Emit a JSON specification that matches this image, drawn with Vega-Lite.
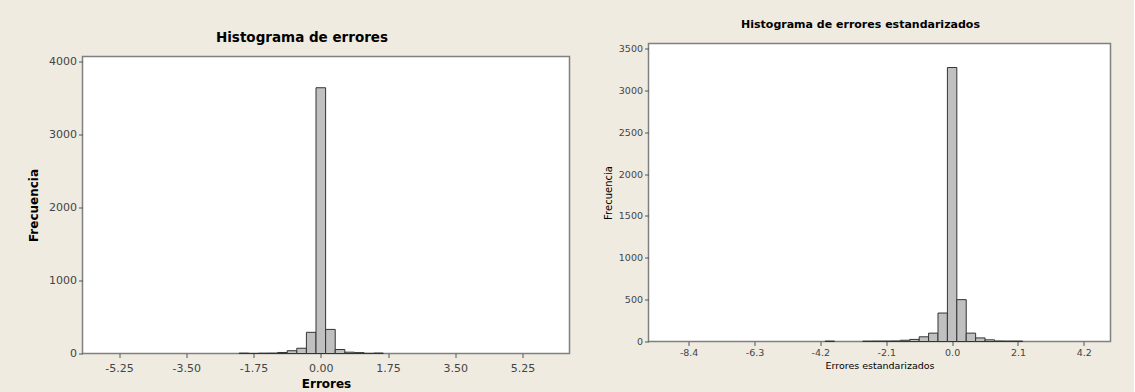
{
  "$schema": "https://vega.github.io/schema/vega-lite/v6.json",
  "background": "#EFEBE1",
  "padding": {"left": 26.5, "top": 17.5, "right": 22, "bottom": 1},
  "spacing": 32,
  "config": {
    "font": "DejaVu Sans",
    "view": {"fill": "white", "stroke": "#808080", "strokeWidth": 1.5},
    "axis": {
      "grid": false,
      "domain": false,
      "tickColor": "#555555",
      "tickSize": 4,
      "labelColor": "#444444",
      "labelPadding": 2,
      "labelFlush": false,
      "labelOverlap": false,
      "titleColor": "black",
      "titleFont": "DejaVu Sans"
    }
  },
  "datasets": {
    "errores": [
      {"bin_start": -2.125, "bin_end": -1.875, "count": 5},
      {"bin_start": -1.875, "bin_end": -1.625, "count": 1},
      {"bin_start": -1.625, "bin_end": -1.375, "count": 4},
      {"bin_start": -1.375, "bin_end": -1.125, "count": 5},
      {"bin_start": -1.125, "bin_end": -0.875, "count": 14},
      {"bin_start": -0.875, "bin_end": -0.625, "count": 38},
      {"bin_start": -0.625, "bin_end": -0.375, "count": 72},
      {"bin_start": -0.375, "bin_end": -0.125, "count": 290},
      {"bin_start": -0.125, "bin_end": 0.125, "count": 3640},
      {"bin_start": 0.125, "bin_end": 0.375, "count": 330},
      {"bin_start": 0.375, "bin_end": 0.625, "count": 55},
      {"bin_start": 0.625, "bin_end": 0.875, "count": 18},
      {"bin_start": 0.875, "bin_end": 1.125, "count": 12},
      {"bin_start": 1.125, "bin_end": 1.375, "count": 2},
      {"bin_start": 1.375, "bin_end": 1.625, "count": 6}
    ],
    "estandarizados": [
      {"bin_start": -4.05, "bin_end": -3.75, "count": 5},
      {"bin_start": -2.85, "bin_end": -2.55, "count": 4},
      {"bin_start": -2.55, "bin_end": -2.25, "count": 5},
      {"bin_start": -2.25, "bin_end": -1.95, "count": 5},
      {"bin_start": -1.95, "bin_end": -1.65, "count": 6},
      {"bin_start": -1.65, "bin_end": -1.35, "count": 15},
      {"bin_start": -1.35, "bin_end": -1.05, "count": 25},
      {"bin_start": -1.05, "bin_end": -0.75, "count": 56},
      {"bin_start": -0.75, "bin_end": -0.45, "count": 100},
      {"bin_start": -0.45, "bin_end": -0.15, "count": 340},
      {"bin_start": -0.15, "bin_end": 0.15, "count": 3273},
      {"bin_start": 0.15, "bin_end": 0.45, "count": 500},
      {"bin_start": 0.45, "bin_end": 0.75, "count": 100},
      {"bin_start": 0.75, "bin_end": 1.05, "count": 43},
      {"bin_start": 1.05, "bin_end": 1.35, "count": 20},
      {"bin_start": 1.35, "bin_end": 1.65, "count": 6},
      {"bin_start": 1.65, "bin_end": 1.95, "count": 5},
      {"bin_start": 1.95, "bin_end": 2.25, "count": 5}
    ]
  },
  "hconcat": [
    {
      "title": {
        "text": "Histograma de errores",
        "fontSize": 13.5,
        "fontWeight": "bold",
        "font": "DejaVu Sans",
        "color": "black",
        "anchor": "middle",
        "dx": 3.5,
        "offset": -1
      },
      "spacing": 0,
      "vconcat": [
        {
          "width": 487,
          "height": 11,
          "view": {"fill": null, "stroke": null},
          "data": {"values": [{}]},
          "mark": {"type": "rule", "opacity": 0},
          "encoding": {}
        },
        {
          "width": 487,
          "height": 297,
          "data": {"name": "errores"},
          "mark": {"type": "bar", "fill": "#C0C0C0", "stroke": "#333333", "strokeWidth": 1},
          "encoding": {
            "x": {
              "field": "bin_start",
              "type": "quantitative",
              "scale": {"domain": [-6.2, 6.47], "nice": false, "zero": false},
              "axis": {
                "title": "Errores",
                "titleFontSize": 12,
                "titleFontWeight": "bold",
                "titlePadding": 5,
                "labelPadding": 5,
                "labelFontSize": 11,
                "values": [-5.25, -3.5, -1.75, 0, 1.75, 3.5, 5.25],
                "labelExpr": "replace(format(datum.value, '.2f'), '\u2212', '-')"
              }
            },
            "x2": {"field": "bin_end"},
            "y": {
              "field": "count",
              "type": "quantitative",
              "scale": {"domain": [0, 4068], "nice": false},
              "axis": {
                "title": "Frecuencia",
                "titleFontSize": 12,
                "titleFontWeight": "bold",
                "titlePadding": 8,
                "labelFontSize": 11,
                "values": [0, 1000, 2000, 3000, 4000],
                "format": "d"
              }
            },
            "y2": {"datum": 0}
          }
        }
      ]
    },
    {
      "width": 462,
      "height": 298,
      "title": {
        "text": "Histograma de errores estandarizados",
        "fontSize": 11,
        "fontWeight": "bold",
        "font": "DejaVu Sans",
        "color": "black",
        "anchor": "middle",
        "dx": -19,
        "offset": 13.5
      },
      "data": {"name": "estandarizados"},
      "mark": {"type": "bar", "fill": "#C0C0C0", "stroke": "#333333", "strokeWidth": 1},
      "encoding": {
        "x": {
          "field": "bin_start",
          "type": "quantitative",
          "scale": {"domain": [-9.68, 5.05], "nice": false, "zero": false},
          "axis": {
            "title": "Errores estandarizados",
            "titleFontSize": 9.5,
            "titleFontWeight": "normal",
            "titlePadding": 3,
            "labelFontSize": 9.5,
            "values": [-8.4, -6.3, -4.2, -2.1, 0, 2.1, 4.2],
            "labelExpr": "replace(format(datum.value, '.1f'), '\u2212', '-')"
          }
        },
        "x2": {"field": "bin_end"},
        "y": {
          "field": "count",
          "type": "quantitative",
          "scale": {"domain": [0, 3560], "nice": false},
          "axis": {
            "title": "Frecuencia",
            "titleFontSize": 10,
            "titleFontWeight": "normal",
            "titlePadding": 5,
            "labelFontSize": 9.5,
            "values": [0, 500, 1000, 1500, 2000, 2500, 3000, 3500],
            "format": "d"
          }
        },
        "y2": {"datum": 0}
      }
    }
  ]
}
